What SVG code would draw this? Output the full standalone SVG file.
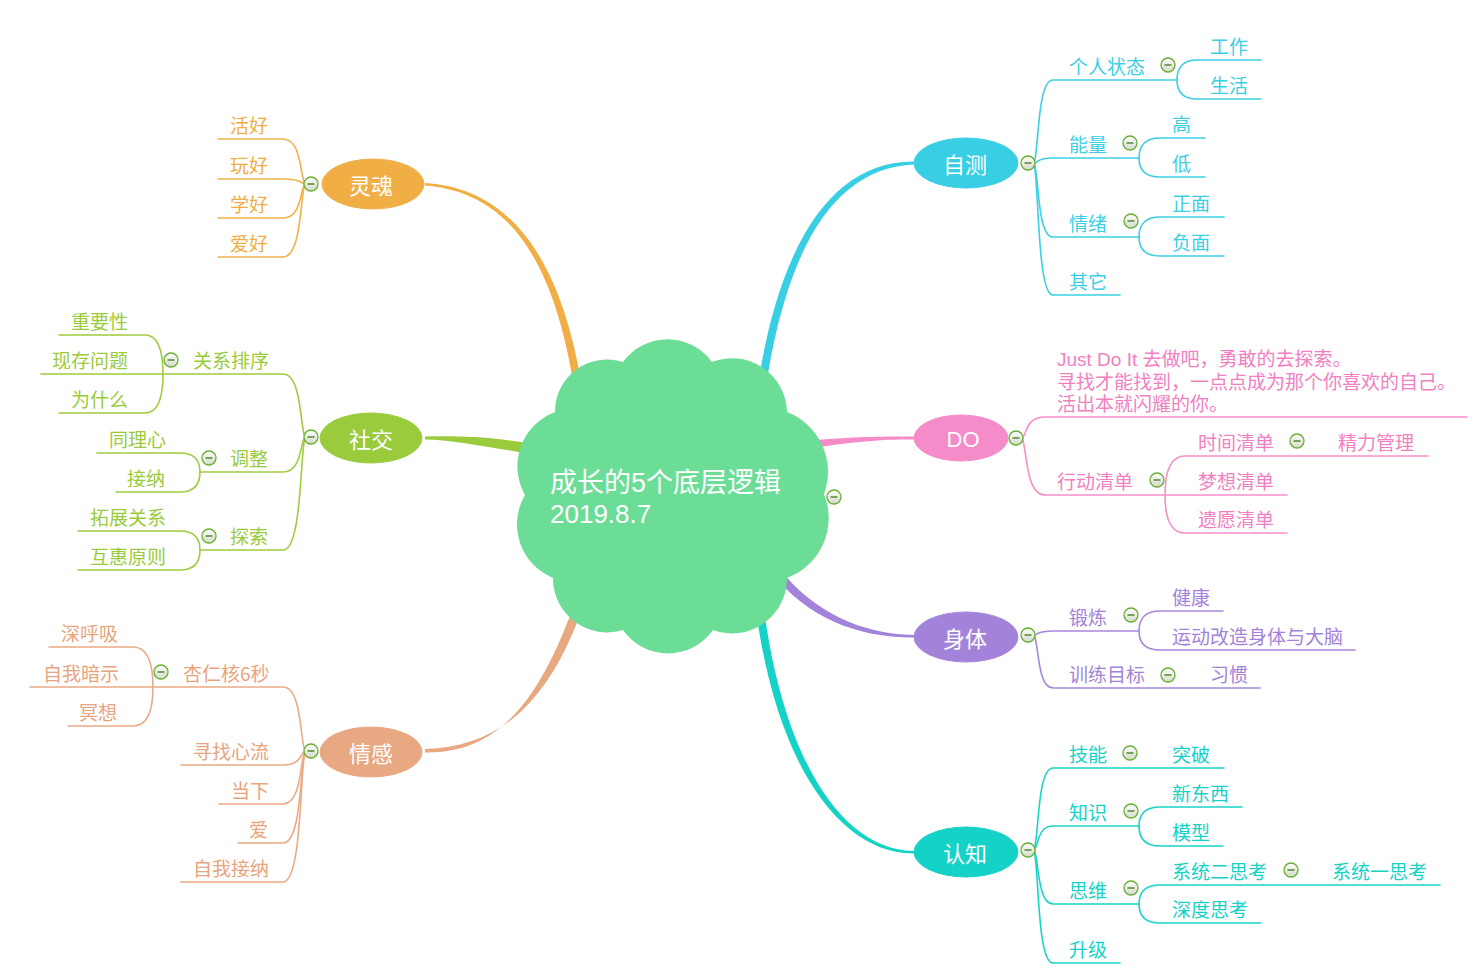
<svg xmlns="http://www.w3.org/2000/svg" xmlns:xlink="http://www.w3.org/1999/xlink" width="1481" height="976" viewBox="0 0 1481 976">
<style>
.lk{fill:none;stroke-width:1.6;stroke-linecap:round}
.t{font-family:"Noto Sans CJK SC","Liberation Sans",sans-serif;font-size:19px}
.note{font-family:"Liberation Sans","Noto Sans CJK SC",sans-serif;font-size:19px}
.mt{font-family:"Liberation Sans","Noto Sans CJK SC",sans-serif;font-size:22px;fill:#ffffff;text-anchor:middle}
.soul{stroke:#F2B14C;fill:#F0AE45}
.soc{stroke:#9FCC40;fill:#9ACB3C}
.emo{stroke:#EAAA85;fill:#E8A882}
.self{stroke:#3CCFE4;fill:#38CEE4}
.do{stroke:#F590C9;fill:#F68BC9}
.body{stroke:#A886DB;fill:#A383DA}
.cog{stroke:#1AD3C7;fill:#14D2C6}
.lk.soul,.lk.soc,.lk.emo,.lk.self,.lk.do,.lk.body,.lk.cog{fill:none}
.tx-soul{fill:#F0AE45}.tx-soc{fill:#9ACB3C}.tx-emo{fill:#E8A47E}.tx-self{fill:#3CCFE4}.tx-do{fill:#F27FC2}.tx-body{fill:#A383DA}.tx-cog{fill:#14D2C6}
.br{stroke:none}
</style>
<defs>
<linearGradient id="bg" x1="0" y1="0" x2="0" y2="1"><stop offset="0" stop-color="#ffffff"/><stop offset="1" stop-color="#d3dacb"/></linearGradient>
<g id="btn"><circle r="7" fill="url(#bg)" stroke="#6aae32" stroke-width="1.3"/><path d="M-3.5 0H3.5" stroke="#5f8f3a" stroke-width="1.6"/></g>
</defs>
<rect width="1481" height="976" fill="#ffffff"/>
<g id="connectors">
<path class="br soul" d="M584 400C564 260 511 188 425 183L425 185.5C509 192 556 260 576 400Z"/>
<path class="br soc" d="M540 445C490 436 455 436 425 436.5L425 439.5C455 440 490 448 540 455Z"/>
<path class="br emo" d="M585 601C551 701 501 747 425 749L425 752.5C499 754 541 699 576 599Z"/>
<path class="br self" d="M756 399C776 250 829 161 914 161.5L914 164.5C832 168 784 252 764 401Z"/>
<path class="br do" d="M800 441C850 437 880 436 914 436.5L914 439.5C880 439 850 442 800 450Z"/>
<path class="br body" d="M778 567C813 612 861 634 914 635L914 637.5C859 638 807 618 772 573Z"/>
<path class="br cog" d="M764 610C784 758 841 850 914 851L914 853.5C839 854 776 762 756 610Z"/>
<g class="lk soul">
<path d="M305 184C300 177 302 139 283 139H218"/>
<path d="M305 184C300 183 302 179 283 179H218"/>
<path d="M305 184C300 189 302 218 283 218H218"/>
<path d="M305 184C300 195 302 257 283 257H218"/>
</g>
<g class="lk soc">
<path d="M305 437C300 428 302 374 283 374H41"/>
<path d="M305 437C300 442 302 472 283 472H200"/>
<path d="M305 437C300 455 302 550 283 550H200"/>
<path d="M163 374Q163 335 145 335H59"/>
<path d="M163 374Q163 413 145 413H59"/>
<path d="M200 472Q200 453 180 453H97"/>
<path d="M200 472Q200 492 180 492H116"/>
<path d="M200 550Q200 531 180 531H78"/>
<path d="M200 550Q200 570 180 570H78"/>
</g>
<g class="lk emo">
<path d="M305 751C300 741 302 687 283 687H30"/>
<path d="M305 751C300 753 302 765 283 765H181"/>
<path d="M305 751C300 759 302 804 283 804H219"/>
<path d="M305 751C300 765 302 843 283 843H238"/>
<path d="M305 751C300 771 302 882 283 882H181"/>
<path d="M153 687Q153 647 133 647H49"/>
<path d="M153 687Q153 726 133 726H68"/>
</g>
<g class="lk self">
<path d="M1034 163C1039 150.5 1037 80 1053 80H1177"/>
<path d="M1034 163C1039 162 1037 158 1053 158H1139"/>
<path d="M1034 163C1039 174 1037 237 1053 237H1139"/>
<path d="M1034 163C1039 183 1037 295 1053 295H1120"/>
<path d="M1177 80Q1177 60 1197 60H1261"/>
<path d="M1177 80Q1177 99 1197 99H1261"/>
<path d="M1139 158Q1139 138 1160 138H1205"/>
<path d="M1139 158Q1139 177 1160 177H1205"/>
<path d="M1139 237Q1139 217 1160 217H1224"/>
<path d="M1139 237Q1139 256 1160 256H1224"/>
</g>
<g class="lk do">
<path d="M1022 438C1027 435 1025 417 1045 417H1467"/>
<path d="M1022 438C1027 447 1025 495 1045 495H1165"/>
<path d="M1165 495Q1165 456 1185 456H1428"/>
<path d="M1165 495H1287"/>
<path d="M1165 495Q1165 533 1185 533H1287"/>
</g>
<g class="lk body">
<path d="M1034 635C1039 634 1037 631 1053 631H1139"/>
<path d="M1034 635C1039 643 1037 688 1053 688H1260"/>
<path d="M1139 631Q1139 611 1160 611H1223"/>
<path d="M1139 631Q1139 650 1160 650H1355"/>
</g>
<g class="lk cog">
<path d="M1034 850C1039 838 1037 768 1053 768H1224"/>
<path d="M1034 850C1039 846 1037 826 1053 826H1139"/>
<path d="M1034 850C1039 858 1037 904 1053 904H1139"/>
<path d="M1034 850C1039 867 1037 963 1053 963H1120"/>
<path d="M1139 826Q1139 807 1160 807H1242"/>
<path d="M1139 826Q1139 846 1160 846H1223"/>
<path d="M1139 904Q1139 885 1160 885H1440"/>
<path d="M1139 904Q1139 923 1160 923H1261"/>
</g>
</g>
<g id="center">
<path fill="#6CDD97" d="M623 362A55 55 0 0 1 712 362A55 55 0 0 1 787 412A64 64 0 0 1 824 494A64 64 0 0 1 787 578A55 55 0 0 1 713 630A55 55 0 0 1 623 630A54 54 0 0 1 553 578A58 58 0 0 1 525 495A58 58 0 0 1 555 412A52 52 0 0 1 623 362Z"/>
<text x="550" y="492" font-family="Liberation Sans, Noto Sans CJK SC, sans-serif" font-size="27" fill="#ffffff">成长的5个底层逻辑</text>
<text x="550" y="523" font-family="Liberation Sans, Noto Sans CJK SC, sans-serif" font-size="26" fill="#ffffff">2019.8.7</text>
<use href="#btn" x="834" y="497"/>
</g>
<g id="n-soul"><ellipse class="soul" cx="373" cy="184" rx="51" ry="25" stroke="none"/><text class="mt" x="371" y="193.5">灵魂</text><use href="#btn" x="311" y="184"/></g>
<g id="n-social"><ellipse class="soc" cx="371" cy="438" rx="51" ry="25" stroke="none"/><text class="mt" x="371" y="447.5">社交</text><use href="#btn" x="311" y="437"/></g>
<g id="n-emotion"><ellipse class="emo" cx="371" cy="752" rx="51" ry="25" stroke="none"/><text class="mt" x="371" y="761.5">情感</text><use href="#btn" x="311" y="751"/></g>
<g id="n-self"><ellipse class="self" cx="966" cy="163" rx="52" ry="25" stroke="none"/><text class="mt" x="965" y="172.5">自测</text><use href="#btn" x="1028" y="163"/></g>
<g id="n-do"><ellipse class="do" cx="961" cy="438" rx="47" ry="23" stroke="none"/><text class="mt" x="963" y="447">DO</text><use href="#btn" x="1016" y="438"/></g>
<g id="n-body"><ellipse class="body" cx="966" cy="637" rx="52" ry="25" stroke="none"/><text class="mt" x="965" y="646.5">身体</text><use href="#btn" x="1028" y="635"/></g>
<g id="n-cog"><ellipse class="cog" cx="966" cy="852" rx="52" ry="25" stroke="none"/><text class="mt" x="965" y="861.5">认知</text><use href="#btn" x="1028" y="850"/></g>
<g id="soul-children" class="t tx-soul">
<text x="230" y="133">活好</text><text x="230" y="173">玩好</text><text x="230" y="212">学好</text><text x="230" y="251">爱好</text>
</g>
<g id="social-children" class="t tx-soc">
<g id="n-rel"><text x="193" y="368">关系排序</text><use href="#btn" x="171" y="360"/></g>
<text x="71" y="329">重要性</text><text x="52" y="368">现存问题</text><text x="71" y="407">为什么</text>
<g id="n-adjust"><text x="230" y="466">调整</text><use href="#btn" x="209" y="458"/></g>
<text x="109" y="447">同理心</text><text x="127" y="486">接纳</text>
<g id="n-explore"><text x="230" y="544">探索</text><use href="#btn" x="209" y="536"/></g>
<text x="90" y="525">拓展关系</text><text x="90" y="564">互惠原则</text>
</g>
<g id="emotion-children" class="t tx-emo">
<g id="n-amyg"><text x="183" y="681">杏仁核6秒</text><use href="#btn" x="161" y="672"/></g>
<text x="61" y="641">深呼吸</text><text x="43" y="681">自我暗示</text><text x="79" y="720">冥想</text>
<text x="193" y="759">寻找心流</text><text x="231" y="798">当下</text><text x="249" y="837">爱</text><text x="193" y="876">自我接纳</text>
</g>
<g id="self-children" class="t tx-self">
<g id="n-state"><text x="1069" y="74">个人状态</text><use href="#btn" x="1168" y="65"/></g>
<text x="1210" y="54">工作</text><text x="1210" y="93">生活</text>
<g id="n-energy"><text x="1069" y="152">能量</text><use href="#btn" x="1130" y="143"/></g>
<text x="1172" y="132">高</text><text x="1172" y="171">低</text>
<g id="n-mood"><text x="1069" y="231">情绪</text><use href="#btn" x="1131" y="221"/></g>
<text x="1172" y="211">正面</text><text x="1172" y="250">负面</text>
<text x="1069" y="289">其它</text>
</g>
<g id="do-children" class="t tx-do">
<g id="n-note" class="note"><text x="1057" y="366">Just Do It 去做吧，勇敢的去探索。</text><text x="1057" y="388.5">寻找才能找到，一点点成为那个你喜欢的自己。</text><text x="1057" y="411">活出本就闪耀的你。</text></g>
<g id="n-action"><text x="1057" y="489">行动清单</text><use href="#btn" x="1157" y="480"/></g>
<g id="n-time"><text x="1198" y="450">时间清单</text><use href="#btn" x="1297" y="441"/></g>
<text x="1338" y="450">精力管理</text>
<text x="1198" y="489">梦想清单</text><text x="1198" y="527">遗愿清单</text>
</g>
<g id="body-children" class="t tx-body">
<g id="n-exercise"><text x="1069" y="625">锻炼</text><use href="#btn" x="1131" y="615"/></g>
<text x="1172" y="605">健康</text><text x="1172" y="644">运动改造身体与大脑</text>
<g id="n-goal"><text x="1069" y="682">训练目标</text><use href="#btn" x="1168" y="675"/></g>
<text x="1210" y="682">习惯</text>
</g>
<g id="cog-children" class="t tx-cog">
<g id="n-skill"><text x="1069" y="762">技能</text><use href="#btn" x="1130" y="753"/></g>
<text x="1172" y="762">突破</text>
<g id="n-know"><text x="1069" y="820">知识</text><use href="#btn" x="1131" y="811"/></g>
<text x="1172" y="801">新东西</text><text x="1172" y="840">模型</text>
<g id="n-think"><text x="1069" y="898">思维</text><use href="#btn" x="1131" y="888"/></g>
<g id="n-sys2"><text x="1172" y="879">系统二思考</text><use href="#btn" x="1291" y="870"/></g>
<text x="1332" y="879">系统一思考</text><text x="1172" y="917">深度思考</text>
<text x="1069" y="957">升级</text>
</g>
</svg>
